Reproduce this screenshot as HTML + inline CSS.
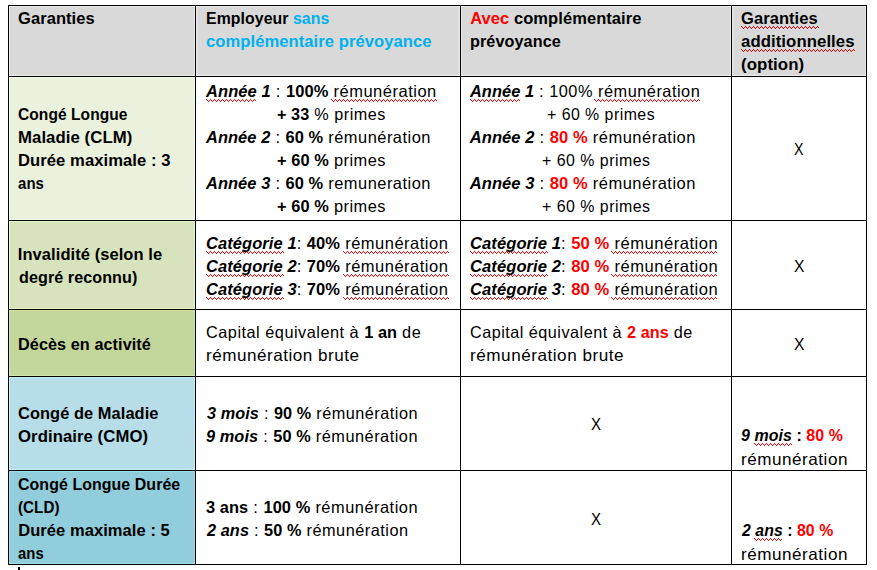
<!DOCTYPE html><html><head><meta charset="utf-8"><style>
html,body{margin:0;padding:0;background:#fff;width:877px;height:570px;overflow:hidden;position:relative}
.t{position:absolute;white-space:pre;font-family:"Liberation Sans",sans-serif;font-size:16.5px;line-height:20px;color:#000;transform-origin:0 0;letter-spacing:0.5px}
.c{position:absolute}
.l{position:absolute;background:#000}
</style></head><body>
<div class="c" style="left:9px;top:6px;width:186px;height:70px;background:#ECECEC"></div>
<div class="c" style="left:10px;top:7px;width:184px;height:68px;background:#D9D9D9"></div>
<div class="c" style="left:196px;top:6px;width:264px;height:70px;background:#ECECEC"></div>
<div class="c" style="left:197px;top:7px;width:262px;height:68px;background:#D9D9D9"></div>
<div class="c" style="left:461px;top:6px;width:270px;height:70px;background:#ECECEC"></div>
<div class="c" style="left:462px;top:7px;width:268px;height:68px;background:#D9D9D9"></div>
<div class="c" style="left:732px;top:6px;width:134px;height:70px;background:#ECECEC"></div>
<div class="c" style="left:733px;top:7px;width:132px;height:68px;background:#D9D9D9"></div>
<div class="c" style="left:9px;top:77px;width:186px;height:143px;background:#F5FCE8"></div>
<div class="c" style="left:10px;top:78px;width:184px;height:141px;background:#EAF1DD"></div>
<div class="c" style="left:9px;top:221px;width:186px;height:88px;background:#E6F4CA"></div>
<div class="c" style="left:10px;top:222px;width:184px;height:86px;background:#D7E3BC"></div>
<div class="c" style="left:9px;top:310px;width:186px;height:66px;background:#D1E6A6"></div>
<div class="c" style="left:10px;top:311px;width:184px;height:64px;background:#C3D69B"></div>
<div class="c" style="left:9px;top:377px;width:186px;height:93px;background:#C4EDF8"></div>
<div class="c" style="left:10px;top:378px;width:184px;height:91px;background:#B6DDE8"></div>
<div class="c" style="left:9px;top:471px;width:186px;height:93px;background:#9DDCEC"></div>
<div class="c" style="left:10px;top:472px;width:184px;height:91px;background:#92CDDC"></div>
<div class="l" style="left:8px;top:5px;width:1px;height:560px"></div>
<div class="l" style="left:195px;top:5px;width:1px;height:560px"></div>
<div class="l" style="left:460px;top:5px;width:1px;height:560px"></div>
<div class="l" style="left:731px;top:5px;width:1px;height:560px"></div>
<div class="l" style="left:866px;top:5px;width:1px;height:560px"></div>
<div class="l" style="left:8px;top:5px;width:859px;height:1px"></div>
<div class="l" style="left:8px;top:76px;width:859px;height:1px"></div>
<div class="l" style="left:8px;top:220px;width:859px;height:1px"></div>
<div class="l" style="left:8px;top:309px;width:859px;height:1px"></div>
<div class="l" style="left:8px;top:376px;width:859px;height:1px"></div>
<div class="l" style="left:8px;top:470px;width:859px;height:1px"></div>
<div class="l" style="left:8px;top:564px;width:859px;height:1px"></div>
<svg width="877" height="570" style="position:absolute;left:0;top:0" shape-rendering="crispEdges"><defs>
<pattern id="q0" x="741" y="26" width="4" height="3" patternUnits="userSpaceOnUse"><path d="M0 0h1v1h-1zM1 1h1v1h-1zM2 2h1v1h-1zM3 1h1v1h-1z" fill="#FF0000"/></pattern>
<pattern id="q1" x="741" y="49" width="4" height="3" patternUnits="userSpaceOnUse"><path d="M0 0h1v1h-1zM1 1h1v1h-1zM2 2h1v1h-1zM3 1h1v1h-1z" fill="#FF0000"/></pattern>
<pattern id="q2" x="206" y="99" width="4" height="3" patternUnits="userSpaceOnUse"><path d="M0 0h1v1h-1zM1 1h1v1h-1zM2 2h1v1h-1zM3 1h1v1h-1z" fill="#FF0000"/></pattern>
<pattern id="q3" x="331" y="99" width="4" height="3" patternUnits="userSpaceOnUse"><path d="M0 0h1v1h-1zM1 1h1v1h-1zM2 2h1v1h-1zM3 1h1v1h-1z" fill="#FF0000"/></pattern>
<pattern id="q4" x="470" y="99" width="4" height="3" patternUnits="userSpaceOnUse"><path d="M0 0h1v1h-1zM1 1h1v1h-1zM2 2h1v1h-1zM3 1h1v1h-1z" fill="#FF0000"/></pattern>
<pattern id="q5" x="594" y="99" width="4" height="3" patternUnits="userSpaceOnUse"><path d="M0 0h1v1h-1zM1 1h1v1h-1zM2 2h1v1h-1zM3 1h1v1h-1z" fill="#FF0000"/></pattern>
<pattern id="q6" x="206" y="251" width="4" height="3" patternUnits="userSpaceOnUse"><path d="M0 0h1v1h-1zM1 1h1v1h-1zM2 2h1v1h-1zM3 1h1v1h-1z" fill="#FF0000"/></pattern>
<pattern id="q7" x="343" y="251" width="4" height="3" patternUnits="userSpaceOnUse"><path d="M0 0h1v1h-1zM1 1h1v1h-1zM2 2h1v1h-1zM3 1h1v1h-1z" fill="#FF0000"/></pattern>
<pattern id="q8" x="206" y="274" width="4" height="3" patternUnits="userSpaceOnUse"><path d="M0 0h1v1h-1zM1 1h1v1h-1zM2 2h1v1h-1zM3 1h1v1h-1z" fill="#FF0000"/></pattern>
<pattern id="q9" x="343" y="274" width="4" height="3" patternUnits="userSpaceOnUse"><path d="M0 0h1v1h-1zM1 1h1v1h-1zM2 2h1v1h-1zM3 1h1v1h-1z" fill="#FF0000"/></pattern>
<pattern id="q10" x="206" y="297" width="4" height="3" patternUnits="userSpaceOnUse"><path d="M0 0h1v1h-1zM1 1h1v1h-1zM2 2h1v1h-1zM3 1h1v1h-1z" fill="#FF0000"/></pattern>
<pattern id="q11" x="343" y="297" width="4" height="3" patternUnits="userSpaceOnUse"><path d="M0 0h1v1h-1zM1 1h1v1h-1zM2 2h1v1h-1zM3 1h1v1h-1z" fill="#FF0000"/></pattern>
<pattern id="q12" x="470" y="251" width="4" height="3" patternUnits="userSpaceOnUse"><path d="M0 0h1v1h-1zM1 1h1v1h-1zM2 2h1v1h-1zM3 1h1v1h-1z" fill="#FF0000"/></pattern>
<pattern id="q13" x="611" y="251" width="4" height="3" patternUnits="userSpaceOnUse"><path d="M0 0h1v1h-1zM1 1h1v1h-1zM2 2h1v1h-1zM3 1h1v1h-1z" fill="#FF0000"/></pattern>
<pattern id="q14" x="470" y="274" width="4" height="3" patternUnits="userSpaceOnUse"><path d="M0 0h1v1h-1zM1 1h1v1h-1zM2 2h1v1h-1zM3 1h1v1h-1z" fill="#FF0000"/></pattern>
<pattern id="q15" x="611" y="274" width="4" height="3" patternUnits="userSpaceOnUse"><path d="M0 0h1v1h-1zM1 1h1v1h-1zM2 2h1v1h-1zM3 1h1v1h-1z" fill="#FF0000"/></pattern>
<pattern id="q16" x="470" y="297" width="4" height="3" patternUnits="userSpaceOnUse"><path d="M0 0h1v1h-1zM1 1h1v1h-1zM2 2h1v1h-1zM3 1h1v1h-1z" fill="#FF0000"/></pattern>
<pattern id="q17" x="611" y="297" width="4" height="3" patternUnits="userSpaceOnUse"><path d="M0 0h1v1h-1zM1 1h1v1h-1zM2 2h1v1h-1zM3 1h1v1h-1z" fill="#FF0000"/></pattern>
<pattern id="q18" x="754" y="443" width="4" height="3" patternUnits="userSpaceOnUse"><path d="M0 0h1v1h-1zM1 1h1v1h-1zM2 2h1v1h-1zM3 1h1v1h-1z" fill="#FF0000"/></pattern>
<pattern id="q19" x="754" y="538" width="4" height="3" patternUnits="userSpaceOnUse"><path d="M0 0h1v1h-1zM1 1h1v1h-1zM2 2h1v1h-1zM3 1h1v1h-1z" fill="#FF0000"/></pattern>
</defs>
<rect x="741" y="26" width="78" height="3" fill="url(#q0)"/>
<rect x="741" y="49" width="114" height="3" fill="url(#q1)"/>
<rect x="206" y="99" width="50" height="3" fill="url(#q2)"/>
<rect x="331" y="99" width="106" height="3" fill="url(#q3)"/>
<rect x="470" y="99" width="50" height="3" fill="url(#q4)"/>
<rect x="594" y="99" width="106" height="3" fill="url(#q5)"/>
<rect x="206" y="251" width="78" height="3" fill="url(#q6)"/>
<rect x="343" y="251" width="106" height="3" fill="url(#q7)"/>
<rect x="206" y="274" width="78" height="3" fill="url(#q8)"/>
<rect x="343" y="274" width="106" height="3" fill="url(#q9)"/>
<rect x="206" y="297" width="78" height="3" fill="url(#q10)"/>
<rect x="343" y="297" width="106" height="3" fill="url(#q11)"/>
<rect x="470" y="251" width="78" height="3" fill="url(#q12)"/>
<rect x="611" y="251" width="106" height="3" fill="url(#q13)"/>
<rect x="470" y="274" width="78" height="3" fill="url(#q14)"/>
<rect x="611" y="274" width="106" height="3" fill="url(#q15)"/>
<rect x="470" y="297" width="78" height="3" fill="url(#q16)"/>
<rect x="611" y="297" width="106" height="3" fill="url(#q17)"/>
<rect x="754" y="443" width="38" height="3" fill="url(#q18)"/>
<rect x="754" y="538" width="28" height="3" fill="url(#q19)"/>
</svg>
<div class="t" style="left:18.00px;top:8.00px"><span style="font-weight:bold;letter-spacing:0.07px">Garanties</span></div>
<div class="t" style="left:206.02px;top:8.00px;transform:scaleX(0.9602)"><span style="font-weight:bold;letter-spacing:0.07px">Employeur&#32;</span><span style="font-weight:bold;letter-spacing:0.07px;color:#00B0F0">sans</span></div>
<div class="t" style="left:206.00px;top:31.00px;transform:scaleX(1.0045)"><span style="font-weight:bold;letter-spacing:0.07px;color:#00B0F0">complémentaire&#32;prévoyance</span></div>
<div class="t" style="left:470.19px;top:8.00px"><span style="font-weight:bold;letter-spacing:0.07px;color:#FF0000">Avec</span><span style="font-weight:bold;letter-spacing:0.07px">&#32;complémentaire</span></div>
<div class="t" style="left:470.20px;top:31.00px;transform:scaleX(0.9826)"><span style="font-weight:bold;letter-spacing:0.07px">prévoyance</span></div>
<div class="t" style="left:741.00px;top:8.00px"><span style="font-weight:bold;letter-spacing:0.07px">Garanties</span></div>
<div class="t" style="left:740.99px;top:31.00px;transform:scaleX(1.0153)"><span style="font-weight:bold;letter-spacing:0.07px">additionnelles</span></div>
<div class="t" style="left:740.99px;top:53.50px;transform:scaleX(1.0213)"><span style="font-weight:bold;letter-spacing:0.07px">(option)</span></div>
<div class="t" style="left:17.83px;top:103.80px;transform:scaleX(0.9417)"><span style="font-weight:bold;letter-spacing:0.07px">Congé&#32;Longue</span></div>
<div class="t" style="left:17.78px;top:126.90px;transform:scaleX(1.0143)"><span style="font-weight:bold;letter-spacing:0.07px">Maladie&#32;(CLM)</span></div>
<div class="t" style="left:17.79px;top:150.00px;transform:scaleX(1.0060)"><span style="font-weight:bold;letter-spacing:0.07px">Durée&#32;maximale&#32;:&#32;3</span></div>
<div class="t" style="left:17.85px;top:173.10px;transform:scaleX(0.9071)"><span style="font-weight:bold;letter-spacing:0.07px">ans</span></div>
<div class="t" style="left:206.00px;top:80.70px"><span style="font-weight:bold;letter-spacing:0.07px;font-style:italic">Année&#32;1</span>&#32;:&#32;<span style="font-weight:bold;letter-spacing:0.07px">100%</span>&#32;rémunération</div>
<div class="t" style="left:277.39px;top:103.80px;transform:scaleX(0.9836)"><span style="font-weight:bold;letter-spacing:0.07px">+&#32;33</span>&#32;%&#32;primes</div>
<div class="t" style="left:206.00px;top:126.90px;transform:scaleX(0.9947)"><span style="font-weight:bold;letter-spacing:0.07px;font-style:italic">Année&#32;2</span>&#32;:&#32;<span style="font-weight:bold;letter-spacing:0.07px">60&#32;%</span>&#32;rémunération</div>
<div class="t" style="left:277.39px;top:150.00px;transform:scaleX(0.9927)"><span style="font-weight:bold;letter-spacing:0.07px">+&#32;60&#32;%</span>&#32;primes</div>
<div class="t" style="left:206.00px;top:173.10px;transform:scaleX(0.9947)"><span style="font-weight:bold;letter-spacing:0.07px;font-style:italic">Année&#32;3</span>&#32;:&#32;<span style="font-weight:bold;letter-spacing:0.07px">60&#32;%</span>&#32;remuneration</div>
<div class="t" style="left:277.39px;top:196.20px;transform:scaleX(0.9927)"><span style="font-weight:bold;letter-spacing:0.07px">+&#32;60&#32;%</span>&#32;primes</div>
<div class="t" style="left:469.79px;top:80.70px;transform:scaleX(0.9905)"><span style="font-weight:bold;letter-spacing:0.07px;font-style:italic">Année&#32;1</span>&#32;:&#32;100%&#32;rémunération</div>
<div class="t" style="left:546.81px;top:103.80px;transform:scaleX(0.9613)">+&#32;60&#32;%&#32;primes</div>
<div class="t" style="left:469.79px;top:126.90px"><span style="font-weight:bold;letter-spacing:0.07px;font-style:italic">Année&#32;2</span>&#32;:&#32;<span style="font-weight:bold;letter-spacing:0.07px;color:#FF0000">80&#32;%</span>&#32;rémunération</div>
<div class="t" style="left:542.21px;top:150.00px;transform:scaleX(0.9649)">+&#32;60&#32;%&#32;primes</div>
<div class="t" style="left:469.79px;top:173.10px"><span style="font-weight:bold;letter-spacing:0.07px;font-style:italic">Année&#32;3</span>&#32;:&#32;<span style="font-weight:bold;letter-spacing:0.07px;color:#FF0000">80&#32;%</span>&#32;rémunération</div>
<div class="t" style="left:542.21px;top:196.20px;transform:scaleX(0.9649)">+&#32;60&#32;%&#32;primes</div>
<div class="t" style="left:794.18px;top:138.90px;transform:scaleX(0.8636)">X</div>
<div class="t" style="left:17.79px;top:244.00px"><span style="font-weight:bold;letter-spacing:0.07px">Invalidité&#32;(selon&#32;le</span></div>
<div class="t" style="left:18.79px;top:267.10px;transform:scaleX(0.9777)"><span style="font-weight:bold;letter-spacing:0.07px">degré&#32;reconnu)</span></div>
<div class="t" style="left:206.00px;top:233.10px"><span style="font-weight:bold;letter-spacing:0.07px;font-style:italic">Catégorie&#32;1</span>:&#32;<span style="font-weight:bold;letter-spacing:0.07px">40%</span>&#32;rémunération</div>
<div class="t" style="left:206.00px;top:256.20px"><span style="font-weight:bold;letter-spacing:0.07px;font-style:italic">Catégorie&#32;2</span>:&#32;<span style="font-weight:bold;letter-spacing:0.07px">70%</span>&#32;rémunération</div>
<div class="t" style="left:206.00px;top:279.30px"><span style="font-weight:bold;letter-spacing:0.07px;font-style:italic">Catégorie&#32;3</span>:&#32;<span style="font-weight:bold;letter-spacing:0.07px">70%</span>&#32;rémunération</div>
<div class="t" style="left:469.59px;top:233.10px;transform:scaleX(1.0045)"><span style="font-weight:bold;letter-spacing:0.07px;font-style:italic">Catégorie&#32;1</span>:&#32;<span style="font-weight:bold;letter-spacing:0.07px;color:#FF0000">50&#32;%</span>&#32;rémunération</div>
<div class="t" style="left:469.59px;top:256.20px;transform:scaleX(1.0045)"><span style="font-weight:bold;letter-spacing:0.07px;font-style:italic">Catégorie&#32;2</span>:&#32;<span style="font-weight:bold;letter-spacing:0.07px;color:#FF0000">80&#32;%</span>&#32;rémunération</div>
<div class="t" style="left:469.59px;top:279.30px;transform:scaleX(1.0045)"><span style="font-weight:bold;letter-spacing:0.07px;font-style:italic">Catégorie&#32;3</span>:&#32;<span style="font-weight:bold;letter-spacing:0.07px;color:#FF0000">80&#32;%</span>&#32;rémunération</div>
<div class="t" style="left:793.63px;top:256.20px;transform:scaleX(0.9500)">X</div>
<div class="t" style="left:17.81px;top:333.60px;transform:scaleX(0.9836)"><span style="font-weight:bold;letter-spacing:0.07px">Décès&#32;en&#32;activité</span></div>
<div class="t" style="left:206.01px;top:322.00px;transform:scaleX(0.9884)">Capital&#32;équivalent&#32;à&#32;<span style="font-weight:bold;letter-spacing:0.07px">1&#32;an</span>&#32;de</div>
<div class="t" style="left:205.98px;top:345.10px;transform:scaleX(1.0347)">rémunération&#32;brute</div>
<div class="t" style="left:469.61px;top:322.00px;transform:scaleX(0.9818)">Capital&#32;équivalent&#32;à&#32;<span style="font-weight:bold;letter-spacing:0.07px;color:#FF0000">2&#32;ans</span>&#32;de</div>
<div class="t" style="left:469.57px;top:345.10px;transform:scaleX(1.0388)">rémunération&#32;brute</div>
<div class="t" style="left:793.63px;top:334.30px;transform:scaleX(0.9500)">X</div>
<div class="t" style="left:18.20px;top:402.60px;transform:scaleX(0.9936)"><span style="font-weight:bold;letter-spacing:0.07px">Congé&#32;de&#32;Maladie</span></div>
<div class="t" style="left:18.19px;top:425.70px;transform:scaleX(1.0125)"><span style="font-weight:bold;letter-spacing:0.07px">Ordinaire&#32;(CMO)</span></div>
<div class="t" style="left:206.99px;top:402.60px;transform:scaleX(0.9850)"><span style="font-weight:bold;letter-spacing:0.07px;font-style:italic">3&#32;mois</span>&#32;:&#32;<span style="font-weight:bold;letter-spacing:0.07px">90&#32;%</span>&#32;rémunération</div>
<div class="t" style="left:206.01px;top:425.70px;transform:scaleX(0.9897)"><span style="font-weight:bold;letter-spacing:0.07px;font-style:italic">9&#32;mois</span>&#32;:&#32;<span style="font-weight:bold;letter-spacing:0.07px">50&#32;%</span>&#32;rémunération</div>
<div class="t" style="left:591.00px;top:414.00px;transform:scaleX(0.9091)">X</div>
<div class="t" style="left:740.62px;top:424.60px;transform:scaleX(0.9673)"><span style="font-weight:bold;letter-spacing:0.07px;font-style:italic">9&#32;mois</span><span style="font-weight:bold;letter-spacing:0.07px">&#32;:&#32;</span><span style="font-weight:bold;letter-spacing:0.07px;color:#FF0000">80&#32;%</span></div>
<div class="t" style="left:740.57px;top:449.00px;transform:scaleX(1.0366)">rémunération</div>
<div class="t" style="left:18.21px;top:474.00px;transform:scaleX(0.9653)"><span style="font-weight:bold;letter-spacing:0.07px">Congé&#32;Longue&#32;Durée</span></div>
<div class="t" style="left:18.23px;top:497.10px;transform:scaleX(0.9182)"><span style="font-weight:bold;letter-spacing:0.07px">(CLD)</span></div>
<div class="t" style="left:18.19px;top:520.20px"><span style="font-weight:bold;letter-spacing:0.07px">Durée&#32;maximale&#32;:&#32;5</span></div>
<div class="t" style="left:18.23px;top:543.30px;transform:scaleX(0.9000)"><span style="font-weight:bold;letter-spacing:0.07px">ans</span></div>
<div class="t" style="left:206.00px;top:497.00px;transform:scaleX(0.9943)"><span style="font-weight:bold;letter-spacing:0.07px">3&#32;ans</span>&#32;:&#32;<span style="font-weight:bold;letter-spacing:0.07px">100&#32;%</span>&#32;rémunération</div>
<div class="t" style="left:206.99px;top:520.10px;transform:scaleX(0.9877)"><span style="font-weight:bold;letter-spacing:0.07px;font-style:italic">2&#32;ans</span>&#32;:&#32;<span style="font-weight:bold;letter-spacing:0.07px">50&#32;%</span>&#32;rémunération</div>
<div class="t" style="left:591.00px;top:509.00px;transform:scaleX(0.9091)">X</div>
<div class="t" style="left:741.58px;top:520.10px;transform:scaleX(0.9579)"><span style="font-weight:bold;letter-spacing:0.07px;font-style:italic">2&#32;ans</span><span style="font-weight:bold;letter-spacing:0.07px">&#32;:&#32;</span><span style="font-weight:bold;letter-spacing:0.07px;color:#FF0000">80&#32;%</span></div>
<div class="t" style="left:740.57px;top:544.00px;transform:scaleX(1.0366)">rémunération</div>
<div class="l" style="left:18px;top:567px;width:2px;height:3px"></div>
</body></html>
